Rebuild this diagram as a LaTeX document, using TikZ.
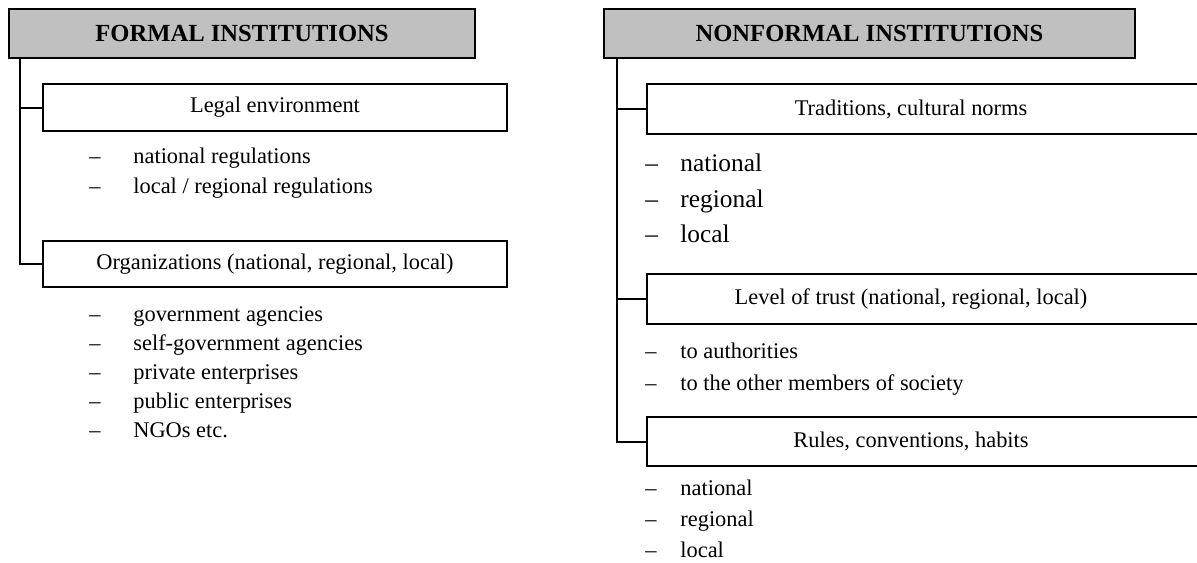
\documentclass[tikz,border=0pt]{standalone}
\usepackage{fontspec}
\setmainfont{Liberation Serif}
\usetikzlibrary{positioning}
\definecolor{headgray}{RGB}{192,192,192}

\begin{document}
\begin{tikzpicture}[%
x=0.5pt, y=-0.5pt,
head/.style={draw, line width=1pt, fill=headgray, inner sep=0pt,
  minimum height=24.5pt, font=\fontsize{12.3}{15}\selectfont\bfseries},
subbox/.style={draw, line width=1pt, inner sep=0pt, minimum height=24pt,
  font=\fontsize{11.2}{14}\selectfont},
boxtext/.style={inner sep=0pt, font=\fontsize{11.2}{14}\selectfont},
item/.style={anchor=base west, inner sep=0pt, font=\fontsize{11.2}{14}\selectfont},
bigitem/.style={item, font=\fontsize{12.7}{15}\selectfont},
trunk/.style={line width=1pt}
]
\useasboundingbox (0,0) rectangle (1197,562);

\node[head, minimum width=233pt] (formal) at (242,33.5) {FORMAL INSTITUTIONS};
\node[head, minimum width=265.5pt] (nonformal) at (869.5,33.5) {NONFORMAL INSTITUTIONS};

% formal side
\node[subbox, minimum width=232pt, minimum height=23.5pt] (legal) at (275,107.5) {Legal environment};
\node[subbox, minimum width=232pt, minimum height=23pt] (orgs) at (275,264) {Organizations (national, regional, local)};

\foreach \t [count=\i] in {national regulations, local / regional regulations}
  \node[item] (legal\i) at (89,163.5+30*\i-30) {\makebox[22pt][l]{--}\t};
\foreach \t [count=\i] in {government agencies, self-government agencies,
    private enterprises, public enterprises, NGOs etc.}
  \node[item] (orgs\i) at (89,321.5+29*\i-29) {\makebox[22pt][l]{--}\t};

% nonformal side, boxes run off the right edge
\node[subbox, minimum width=276pt, minimum height=25pt] (trad) at (923,109) {};
\node[boxtext, xshift=-6pt] (tradtxt) at (trad) {Traditions, cultural norms};
\node[subbox, minimum width=276pt, minimum height=25pt] (trust) at (923,299) {};
\node[boxtext, xshift=-6pt] (trusttxt) at (trust) {Level of trust (national, regional, local)};
\node[subbox, minimum width=276pt, minimum height=24.5pt] (rules) at (923,441.5) {};
\node[boxtext, xshift=-6pt] (rulestxt) at (rules) {Rules, conventions, habits};

\foreach \t [count=\i] in {national, regional, local}
  \node[bigitem] (trad\i) at (645,171.7+35.5*\i-35.5) {\makebox[17.5pt][l]{--}\t};
\foreach \t [count=\i] in {to authorities, to the other members of society}
  \node[item] (trust\i) at (645,358+32*\i-32) {\makebox[17.5pt][l]{--}\t};
\foreach \t [count=\i] in {national, regional, local}
  \node[item] (rules\i) at (645,495+31.3*\i-31.3) {\makebox[17.5pt][l]{--}\t};

% trunk lines
\coordinate (ltrunk) at (20,58);
\coordinate (rtrunk) at (617,58);
\draw[trunk] (ltrunk) |- (orgs.west);
\draw[trunk] (ltrunk |- legal.west) -- (legal.west);
\draw[trunk] (rtrunk) |- (rules.west);
\draw[trunk] (rtrunk |- trad.west) -- (trad.west);
\draw[trunk] (rtrunk |- trust.west) -- (trust.west);
\end{tikzpicture}
\end{document}
